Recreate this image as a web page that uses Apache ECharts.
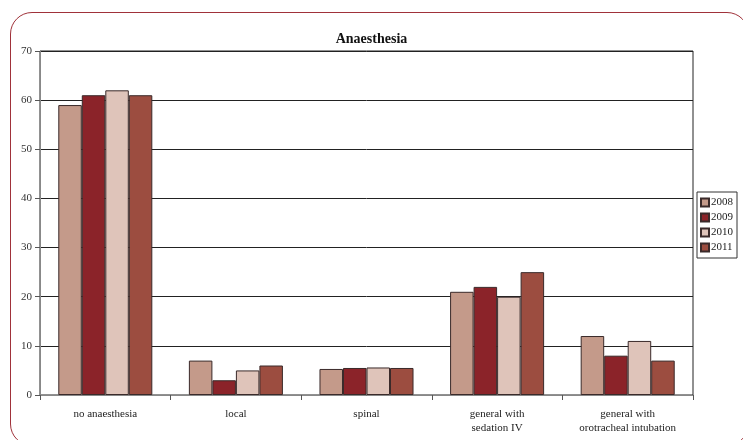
<!DOCTYPE html>
<html>
<head>
<meta charset="utf-8">
<script src="https://cdn.jsdelivr.net/npm/echarts@6/dist/echarts.min.js"></script>
<style>
  html, body { margin: 0; padding: 0; background: #fff; }
  #wrap { position: relative; width: 743px; height: 440px; overflow: hidden; }
  #frame { position: absolute; left: 10px; top: 12px; width: 737px; height: 432px; border: 1.5px solid #a0323a; border-radius: 22px; }
  #chart { position: absolute; left: 0; top: 0; width: 743px; height: 440px; }
</style>
</head>
<body>
<div id="wrap">
  <div id="frame"></div>
  <div id="chart"></div>
</div>
<script>
const categories = ['no anaesthesia', 'local', 'spinal', 'general with\nsedation IV', 'general with\norotracheal intubation']
const years = ['2008', '2009', '2010', '2011']
const v2008 = [59, 7, 5.3, 21, 12]
const v2009 = [61, 3, 5.5, 22, 8]
const v2010 = [62, 5, 5.6, 20, 11]
const v2011 = [61, 6, 5.5, 25, 7]
const colorList = ['#c49a8a', '#8b2329', '#dfc4ba', '#9c4d40']

const font = 'Liberation Serif'
const seriesData = [v2008, v2009, v2010, v2011]
let series = []
for (let i = 0; i < years.length; i++) {
  series.push({
    name: years[i],
    type: 'bar',
    barGap: '0%',
    barCategoryGap: '28%',
    itemStyle: {
      color: colorList[i],
      borderColor: '#3a2a2a',
      borderWidth: 1
    },
    data: seriesData[i]
  })
}

const chart = echarts.init(document.getElementById('chart'))
chart.setOption({
  animation: false,
  title: {
    text: 'Anaesthesia',
    left: 'center',
    top: 27,
    textStyle: { fontFamily: font, fontSize: 14, fontWeight: 'bold', color: '#111' }
  },
  legend: {
    orient: 'vertical',
    left: 697,
    top: 192,
    itemWidth: 8,
    itemHeight: 8,
    itemGap: 4,
    padding: [5, 4, 5, 3],
    borderColor: '#333',
    borderWidth: 1,
    icon: 'rect',
    textStyle: { fontFamily: font, fontSize: 11, color: '#222', padding: [0, 0, 0, -3] },
    data: years
  },
  grid: {
    left: 40,
    right: 50,
    top: 51,
    bottom: 45,
    show: true,
    borderColor: '#222',
    borderWidth: 1
  },
  xAxis: {
    type: 'category',
    data: categories,
    axisLine: { lineStyle: { color: '#888' } },
    axisTick: { show: true, length: 5, lineStyle: { color: '#555' } },
    axisLabel: { fontFamily: font, fontSize: 11, color: '#222', margin: 12, lineHeight: 14, interval: 0 }
  },
  yAxis: {
    type: 'value',
    min: 0,
    max: 70,
    interval: 10,
    axisLine: { show: true, lineStyle: { color: '#888' } },
    axisTick: { show: true, length: 5, lineStyle: { color: '#555' } },
    axisLabel: { fontFamily: font, fontSize: 11, color: '#333', margin: 8 },
    splitLine: { lineStyle: { color: '#222', width: 1 } }
  },
  series: series
})
</script>
</body>
</html>
